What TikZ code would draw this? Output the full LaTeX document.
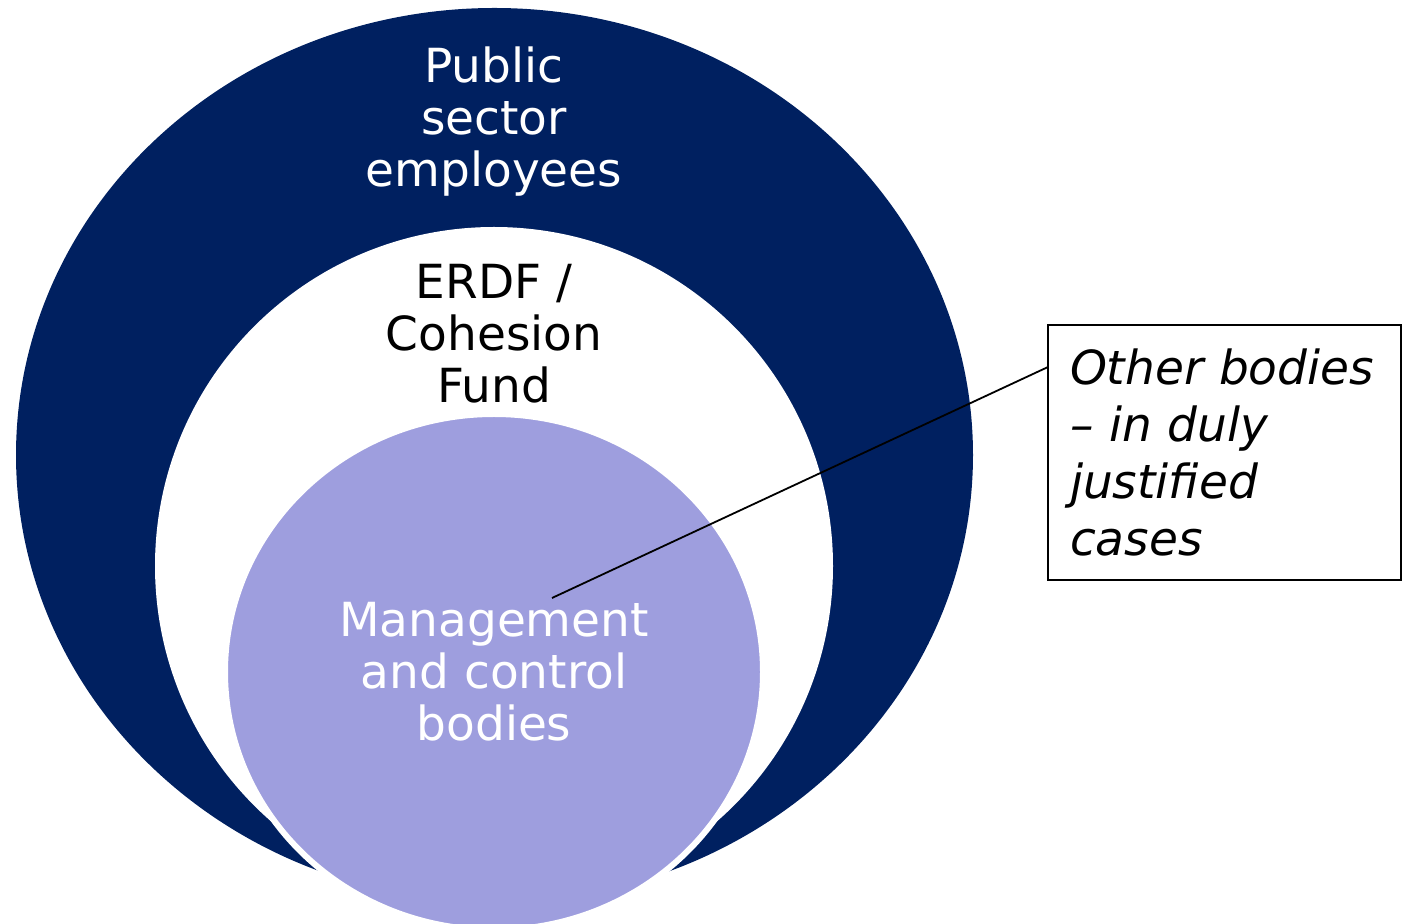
\documentclass[tikz,border=0pt]{standalone}
\usepackage{fontspec}
\setmainfont{DejaVu Sans}
\usetikzlibrary{shapes.geometric}
\definecolor{navy}{RGB}{0,32,96}
\definecolor{lilac}{RGB}{158,158,222}

\begin{document}
\begin{tikzpicture}[x=0.5pt, y=-0.5pt, every node/.style={inner sep=0pt, outer sep=0pt}]
\tikzset{
  ring label/.style={align=center, font=\fontsize{23.5pt}{26pt}\selectfont},
  callout/.style={draw, line width=0.75pt, align=left, text width=154.5pt, minimum height=127.5pt,
    inner xsep=11pt, font=\itshape\fontsize{23.5pt}{28.5pt}\selectfont}
}
\clip (0,0) rectangle (1404,924);

% Rings
\node (pubsec) [ellipse, fill=navy, minimum width=478.5pt, minimum height=447pt] at (494.5,455) {};
\node (erdf) [circle, fill=white, minimum size=339pt] at (494,566) {};
\node (mcb) [ellipse, fill=lilac, draw=white, line width=3pt, minimum width=269pt, minimum height=258pt] at (494,672) {};

% Labels
\node (pubsec text) [ring label, text=white] at (494,122) {Public\\sector\\employees};
\node (erdf text) [ring label] at (494,334) {ERDF /\\Cohesion\\Fund};
\node (mcb text) [ring label, text=white] at (494,672) {Management\\and control\\bodies};

% Callout
\node (other) [callout] at (1224.5,452.5) {Other bodies\\– in duly\\justified\\cases};
\coordinate (pin) at (552,598);
\draw[line width=0.9pt] (pin) -- ([yshift=-21pt]other.north west);

\end{tikzpicture}
\end{document}
